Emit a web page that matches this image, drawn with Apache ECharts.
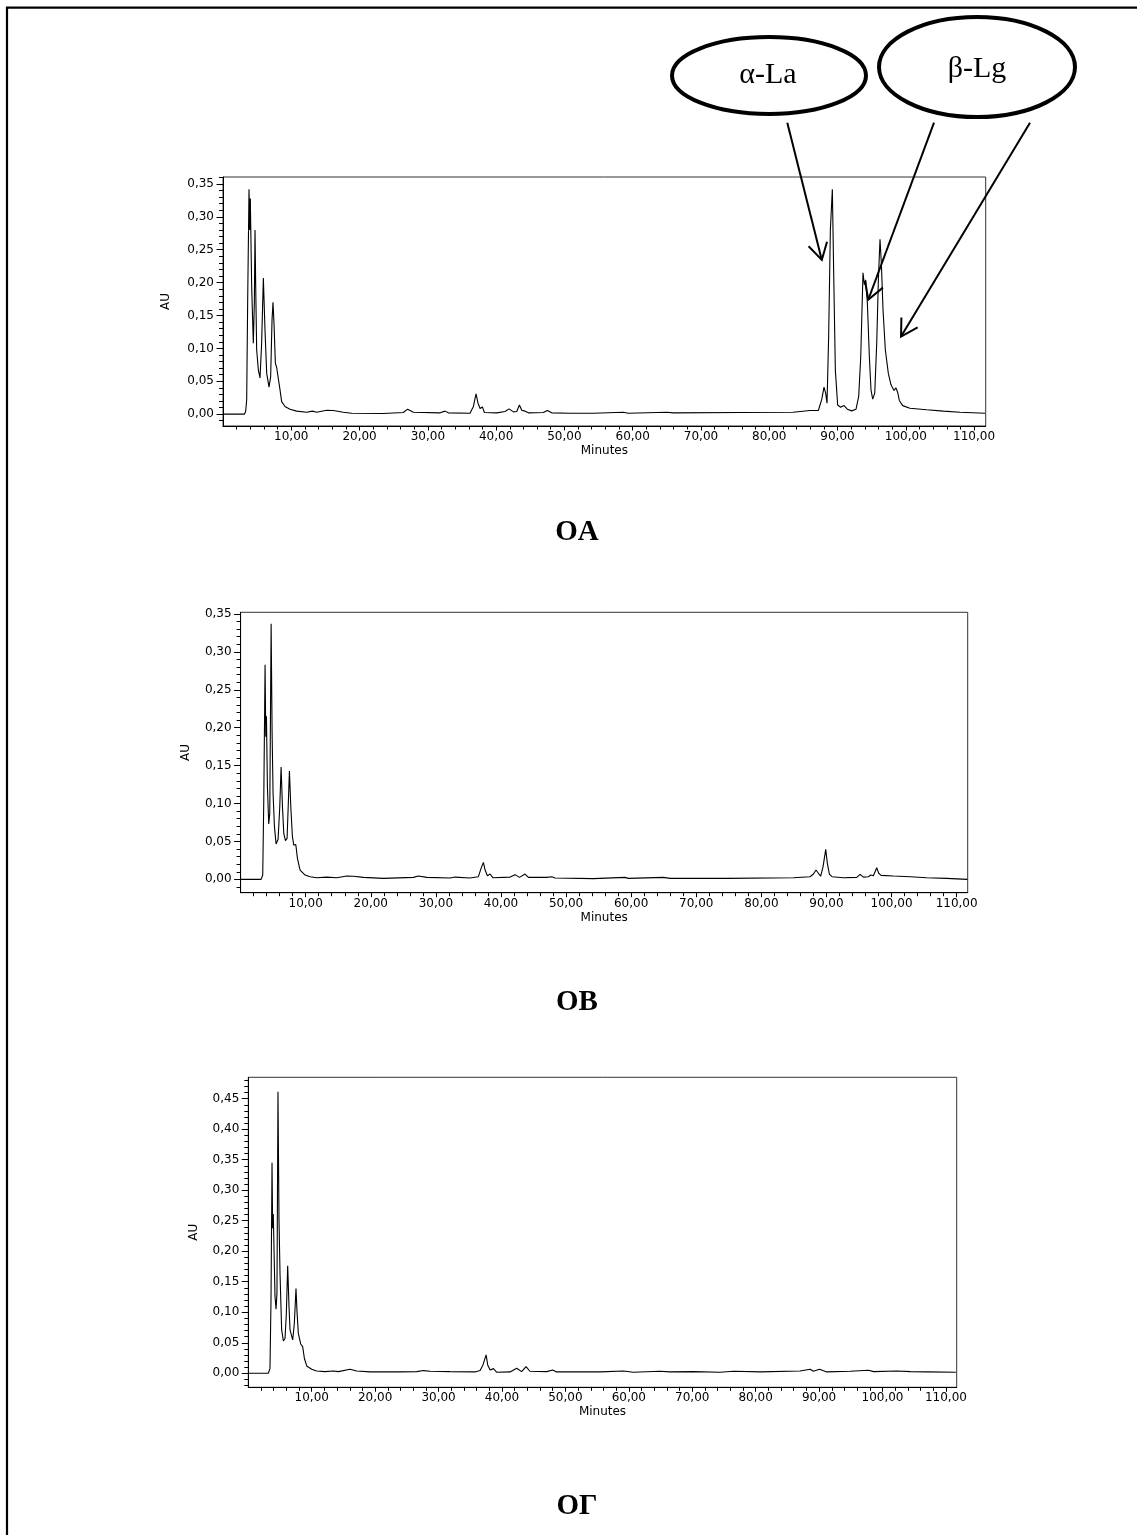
<!DOCTYPE html>
<html>
<head>
<meta charset="utf-8">
<script src="https://cdn.jsdelivr.net/npm/echarts@6/dist/echarts.min.js"></script>
<style>
  html, body { margin: 0; padding: 0; background: #fff; }
  #main { width: 1137px; height: 1535px; }
</style>
</head>
<body>
<div id="main"></div>
<script>
// Retention-time tick labels (minutes), shared by the three chromatograms
const minuteLabels = [10, 20, 30, 40, 50, 60, 70, 80, 90, 100, 110];
// Absorbance tick labels (AU)
const auLabelsOA = [0, 0.05, 0.10, 0.15, 0.20, 0.25, 0.30, 0.35];
const auLabelsOB = [0, 0.05, 0.10, 0.15, 0.20, 0.25, 0.30, 0.35];
const auLabelsOG = [0, 0.05, 0.10, 0.15, 0.20, 0.25, 0.30, 0.35, 0.40, 0.45];

const panelTitles = ['OA', 'OB', 'OГ'];
const peakNames = ['α-La', 'β-Lg'];

// Chromatogram OA: [minutes, AU]
const traceOA = [
  [0, 0], [3.13, 0], [3.32, 0.004], [3.47, 0.022], [3.61, 0.169], [3.81, 0.342],
  [3.91, 0.280], [4.0, 0.328], [4.2, 0.194], [4.44, 0.108], [4.59, 0.169], [4.69, 0.280],
  [4.79, 0.194], [4.93, 0.098], [5.18, 0.067], [5.42, 0.055], [5.66, 0.108], [5.91, 0.207],
  [6.15, 0.128], [6.4, 0.062], [6.74, 0.041], [6.98, 0.057], [7.18, 0.143], [7.32, 0.170],
  [7.47, 0.138], [7.67, 0.0775], [7.86, 0.071], [8.11, 0.068], [8.35, 0.037], [8.59, 0.019],
  [9.08, 0.0117], [9.81, 0.0076], [10.79, 0.0046], [12.26, 0.003], [13.09, 0.0046], [13.72, 0.003],
  [15.19, 0.006], [16.16, 0.0056], [17.63, 0.003], [18.85, 0.0015], [23.49, 0.001], [26.4, 0.0025],
  [27.05, 0.0076], [27.88, 0.003], [31.79, 0.002], [32.52, 0.0046], [33.0, 0.002], [36.18, 0.0015],
  [36.67, 0.0117], [37.06, 0.031], [37.35, 0.0167], [37.65, 0.0086], [37.99, 0.011], [38.28, 0.0025],
  [40.09, 0.002], [41.31, 0.004], [41.89, 0.008], [42.53, 0.0035], [43.02, 0.004], [43.41, 0.014],
  [43.75, 0.006], [44.24, 0.0046], [44.73, 0.002], [46.92, 0.0025], [47.51, 0.0056], [48.14, 0.002],
  [50.83, 0.0015], [54.2, 0.0015], [58.63, 0.003], [59.36, 0.0015], [65.0, 0.003], [65.96, 0.002],
  [75.7, 0.0025], [83.5, 0.003], [85.97, 0.0056], [87.19, 0.0056], [87.68, 0.022], [88.02, 0.041],
  [88.26, 0.032], [88.46, 0.0167], [88.7, 0.118], [88.95, 0.28], [89.24, 0.342], [89.43, 0.219],
  [89.68, 0.067], [90.02, 0.014], [90.46, 0.0106], [90.95, 0.013], [91.44, 0.0076], [92.07, 0.005],
  [92.71, 0.0076], [93.1, 0.027], [93.4, 0.0876], [93.73, 0.215], [93.93, 0.197], [94.12, 0.204],
  [94.37, 0.169], [94.66, 0.0876], [94.9, 0.037], [95.15, 0.0228], [95.45, 0.032], [95.74, 0.108],
  [95.98, 0.204], [96.22, 0.266], [96.42, 0.229], [96.66, 0.159], [97.0, 0.098], [97.44, 0.062],
  [97.83, 0.0446], [98.08, 0.046], [98.27, 0.036], [98.56, 0.040], [98.81, 0.033], [99.05, 0.0208],
  [99.54, 0.013], [100.6, 0.009], [103.05, 0.0066], [105.5, 0.0046], [107.94, 0.003], [111.6, 0.0015]
];

// Chromatogram OB: [minutes, AU]
const traceOB = [
  [0, 0], [3.15, 0], [3.4, 0.0057], [3.56, 0.105], [3.76, 0.283], [3.87, 0.188],
  [3.97, 0.215], [4.12, 0.122], [4.32, 0.073], [4.48, 0.087], [4.69, 0.337], [4.84, 0.193],
  [4.99, 0.113], [5.2, 0.0695], [5.45, 0.0466], [5.76, 0.053], [6.02, 0.096], [6.22, 0.148],
  [6.43, 0.096], [6.63, 0.0607], [6.89, 0.051], [7.14, 0.054], [7.35, 0.105], [7.5, 0.143],
  [7.71, 0.096], [7.96, 0.0563], [8.17, 0.045], [8.48, 0.046], [8.73, 0.0277], [9.14, 0.0123],
  [9.91, 0.0057], [10.68, 0.0035], [11.7, 0.0022], [13.24, 0.003], [14.77, 0.0022], [16.3, 0.0044],
  [17.33, 0.004], [18.87, 0.0026], [21.94, 0.0013], [26.55, 0.0026], [27.31, 0.0044], [28.6, 0.0026],
  [32.18, 0.0018], [32.95, 0.003], [35.25, 0.0018], [36.53, 0.0035], [36.94, 0.0145], [37.3, 0.0224],
  [37.56, 0.0123], [37.92, 0.0048], [38.33, 0.007], [38.74, 0.0022], [41.4, 0.003], [42.17, 0.0062],
  [42.84, 0.0026], [43.7, 0.007], [44.21, 0.0026], [47.03, 0.0026], [47.8, 0.0035], [48.31, 0.0018],
  [54.2, 0.0009], [59.06, 0.0026], [59.57, 0.0013], [64.95, 0.0026], [66.0, 0.0013], [74.7, 0.0013],
  [84.93, 0.0022], [87.48, 0.0035], [88.0, 0.007], [88.4, 0.0123], [88.76, 0.008], [89.12, 0.0044],
  [89.48, 0.0167], [89.89, 0.0396], [90.14, 0.0211], [90.45, 0.007], [90.86, 0.0035], [92.6, 0.0022],
  [94.65, 0.0026], [95.17, 0.0066], [95.68, 0.003], [96.44, 0.0035], [96.8, 0.0057], [97.21, 0.0048],
  [97.47, 0.010], [97.72, 0.0154], [98.03, 0.008], [98.39, 0.0053], [100.28, 0.0044], [102.84, 0.0035],
  [105.4, 0.0022], [108.47, 0.0013], [111.65, 0]
];

// Chromatogram OГ: [minutes, AU]
const traceOG = [
  [0, 0], [3.16, 0], [3.42, 0.008], [3.58, 0.12], [3.74, 0.345], [3.84, 0.2376],
  [3.94, 0.261], [4.21, 0.126], [4.37, 0.105], [4.52, 0.131], [4.68, 0.4615], [4.84, 0.251],
  [5.0, 0.164], [5.26, 0.071], [5.53, 0.053], [5.79, 0.057], [6.0, 0.098], [6.21, 0.176],
  [6.42, 0.109], [6.58, 0.071], [7.0, 0.0546], [7.26, 0.082], [7.52, 0.139], [7.68, 0.101],
  [7.89, 0.0655], [8.26, 0.048], [8.57, 0.0437], [8.84, 0.0246], [9.21, 0.012], [9.99, 0.0066],
  [10.78, 0.0038], [12.1, 0.0027], [13.41, 0.0038], [14.2, 0.0027], [16.04, 0.0066], [17.1, 0.0038],
  [19.2, 0.0022], [23.9, 0.0022], [26.56, 0.0027], [27.6, 0.0044], [28.67, 0.0033], [31.8, 0.0027],
  [35.75, 0.0022], [36.55, 0.0044], [37.0, 0.0137], [37.5, 0.030], [37.75, 0.0137], [38.13, 0.0055],
  [38.65, 0.0076], [39.18, 0.0016], [41.28, 0.0022], [42.32, 0.0082], [43.1, 0.0027], [43.8, 0.011],
  [44.4, 0.0033], [47.06, 0.0027], [48.0, 0.0055], [48.6, 0.0022], [55.5, 0.0022], [59.15, 0.0038],
  [60.7, 0.0016], [64.9, 0.0033], [66.5, 0.0022], [70.2, 0.0027], [74.4, 0.0016], [76.5, 0.0033],
  [80.7, 0.0022], [86.98, 0.0038], [88.6, 0.0066], [89.1, 0.0033], [90.07, 0.0066], [91.2, 0.0022],
  [94.9, 0.0033], [97.8, 0.005], [98.6, 0.0027], [102.3, 0.0038], [104.4, 0.0027], [106.99, 0.0022],
  [111.57, 0.0016]
];

// Where the label arrows point, in [minutes, AU] of the OA panel
const alphaTarget = [87.7, 0.2345];
const betaTargets = [[94.5, 0.174], [99.3, 0.118]];

// ---------------------------------------------------------------------------
const AXIS_FONT = '"DejaVu Sans", "Liberation Sans", Arial, sans-serif';
const SERIF = '"Liberation Serif", "Times New Roman", serif';
const X_MAX = 111.7;
const TICK_FONT = 12;

const panels = [
  { left: 223,   top: 177,    width: 762.7, height: 249,   yMin: -0.018,  yMax: 0.3606, auGap: 51, titleY: 533,  data: traceOA, yLabels: auLabelsOA },
  { left: 240.6, top: 612.3,  width: 727.1, height: 280.4, yMin: -0.0176, yMax: 0.3522, auGap: 49, titleY: 1003, data: traceOB, yLabels: auLabelsOB },
  { left: 248.3, top: 1077.3, width: 708.4, height: 310,   yMin: -0.023,  yMax: 0.485,  auGap: 48, titleY: 1507, data: traceOG, yLabels: auLabelsOG }
];

const fmt = v => v.toFixed(2).replace('.', ',');

// minor tick positions: every 2 min on x, every 0.01 AU on y
const xMinor = [];
for (let t = 2; t <= X_MAX; t += 2) if (t % 10 !== 0) xMinor.push(t);
function yMinorFor(p) {
  const out = [];
  for (let k = Math.ceil(p.yMin * 100 - 1e-9); k <= Math.floor(p.yMax * 100 + 1e-9); k++) {
    if (k % 5 !== 0) out.push(k / 100);
  }
  return out;
}

const black = { color: '#000', width: 1 };
const grid = [], xAxis = [], yAxis = [], series = [];

panels.forEach((p, i) => {
  grid.push({
    left: p.left, top: p.top, width: p.width, height: p.height,
    show: true, borderColor: '#333', borderWidth: 1, backgroundColor: '#fff',
    containLabel: false
  });
  // main x axis: labels + major ticks
  xAxis.push({
    gridIndex: i, type: 'value', position: 'bottom', min: 0, max: X_MAX,
    axisLine: { show: true, onZero: false, lineStyle: black },
    axisTick: { show: true, customValues: minuteLabels, length: 4.5, lineStyle: black },
    axisLabel: { show: true, customValues: minuteLabels, formatter: fmt, margin: 5,
                 color: '#000', fontSize: TICK_FONT, fontFamily: AXIS_FONT },
    splitLine: { show: false },
    name: 'Minutes', nameLocation: 'middle', nameGap: 19,
    nameTextStyle: { color: '#000', fontSize: TICK_FONT, fontFamily: AXIS_FONT }
  });
  // companion x axis: minor ticks only
  xAxis.push({
    gridIndex: i, type: 'value', position: 'bottom', min: 0, max: X_MAX,
    axisLine: { show: false, onZero: false },
    axisTick: { show: true, customValues: xMinor, length: 3.5, lineStyle: black },
    axisLabel: { show: false }, splitLine: { show: false }
  });
  // main y axis
  yAxis.push({
    gridIndex: i, type: 'value', position: 'left', min: p.yMin, max: p.yMax,
    axisLine: { show: true, onZero: false, lineStyle: black },
    axisTick: { show: true, customValues: p.yLabels, length: 6.5, lineStyle: black },
    axisLabel: { show: true, customValues: p.yLabels, formatter: fmt, margin: 9,
                 color: '#000', fontSize: TICK_FONT, fontFamily: AXIS_FONT },
    splitLine: { show: false },
    name: 'AU', nameLocation: 'middle', nameRotate: 90, nameGap: p.auGap,
    nameTextStyle: { color: '#000', fontSize: TICK_FONT, fontFamily: AXIS_FONT }
  });
  // companion y axis: minor ticks
  yAxis.push({
    gridIndex: i, type: 'value', position: 'left', min: p.yMin, max: p.yMax,
    axisLine: { show: false, onZero: false },
    axisTick: { show: true, customValues: yMinorFor(p), length: 4, lineStyle: black },
    axisLabel: { show: false }, splitLine: { show: false }
  });
  series.push({
    type: 'line', name: panelTitles[i], xAxisIndex: 2 * i, yAxisIndex: 2 * i,
    data: p.data, showSymbol: false, symbol: 'none', smooth: false,
    lineStyle: { color: '#000', width: 1.1 }, silent: true, clip: true, z: 3
  });
});

const chart = echarts.init(document.getElementById('main'), null, { renderer: 'canvas' });
chart.setOption({
  backgroundColor: '#fff',
  animation: false,
  grid, xAxis, yAxis, series
});

// annotations: page frame, panel titles, peak ellipses and arrows
function arrow(from, tip) {
  const dx = from[0] - tip[0], dy = from[1] - tip[1];
  const len = Math.hypot(dx, dy), ux = dx / len, uy = dy / len;
  const arm = 19, a = Math.PI / 6;
  const rot = s => [tip[0] + arm * (ux * Math.cos(s) - uy * Math.sin(s)),
                    tip[1] + arm * (ux * Math.sin(s) + uy * Math.cos(s))];
  const st = { stroke: '#000', lineWidth: 2, fill: null };
  return [
    { type: 'polyline', shape: { points: [from, tip] }, style: st, z: 100 },
    { type: 'polyline', shape: { points: [rot(a), tip, rot(-a)] }, style: st, z: 100 }
  ];
}

const px = v => chart.convertToPixel({ seriesIndex: 0 }, v);
const elements = [
  { type: 'rect', shape: { x: 7, y: 7.7, width: 1300, height: 1700 },
    style: { fill: null, stroke: '#000', lineWidth: 2.2 }, z: 100 },
  { type: 'ellipse', shape: { cx: 769, cy: 75.5, rx: 97, ry: 38.5 },
    style: { fill: null, stroke: '#000', lineWidth: 4 }, z: 100 },
  { type: 'ellipse', shape: { cx: 977, cy: 67, rx: 98, ry: 50 },
    style: { fill: null, stroke: '#000', lineWidth: 4 }, z: 100 },
  { type: 'text', z: 100, style: { text: peakNames[0], x: 768, y: 75, align: 'center', verticalAlign: 'middle',
      textAlign: 'center', textVerticalAlign: 'middle', font: '30px ' + SERIF, fill: '#000' } },
  { type: 'text', z: 100, style: { text: peakNames[1], x: 977, y: 69, align: 'center', verticalAlign: 'middle',
      textAlign: 'center', textVerticalAlign: 'middle', font: '30px ' + SERIF, fill: '#000' } }
];
panels.forEach((p, i) => {
  elements.push({ type: 'text', z: 100, style: { text: panelTitles[i], x: 577, y: p.titleY,
    align: 'center', verticalAlign: 'middle', textAlign: 'center', textVerticalAlign: 'middle',
    font: 'bold 29px ' + SERIF, fill: '#000' } });
});
elements.push(...arrow([787.3, 122.7], px(alphaTarget)));
elements.push(...arrow([934, 122.7], px(betaTargets[0])));
elements.push(...arrow([1030, 122.7], px(betaTargets[1])));

chart.setOption({ graphic: { elements } });
</script>
</body>
</html>
